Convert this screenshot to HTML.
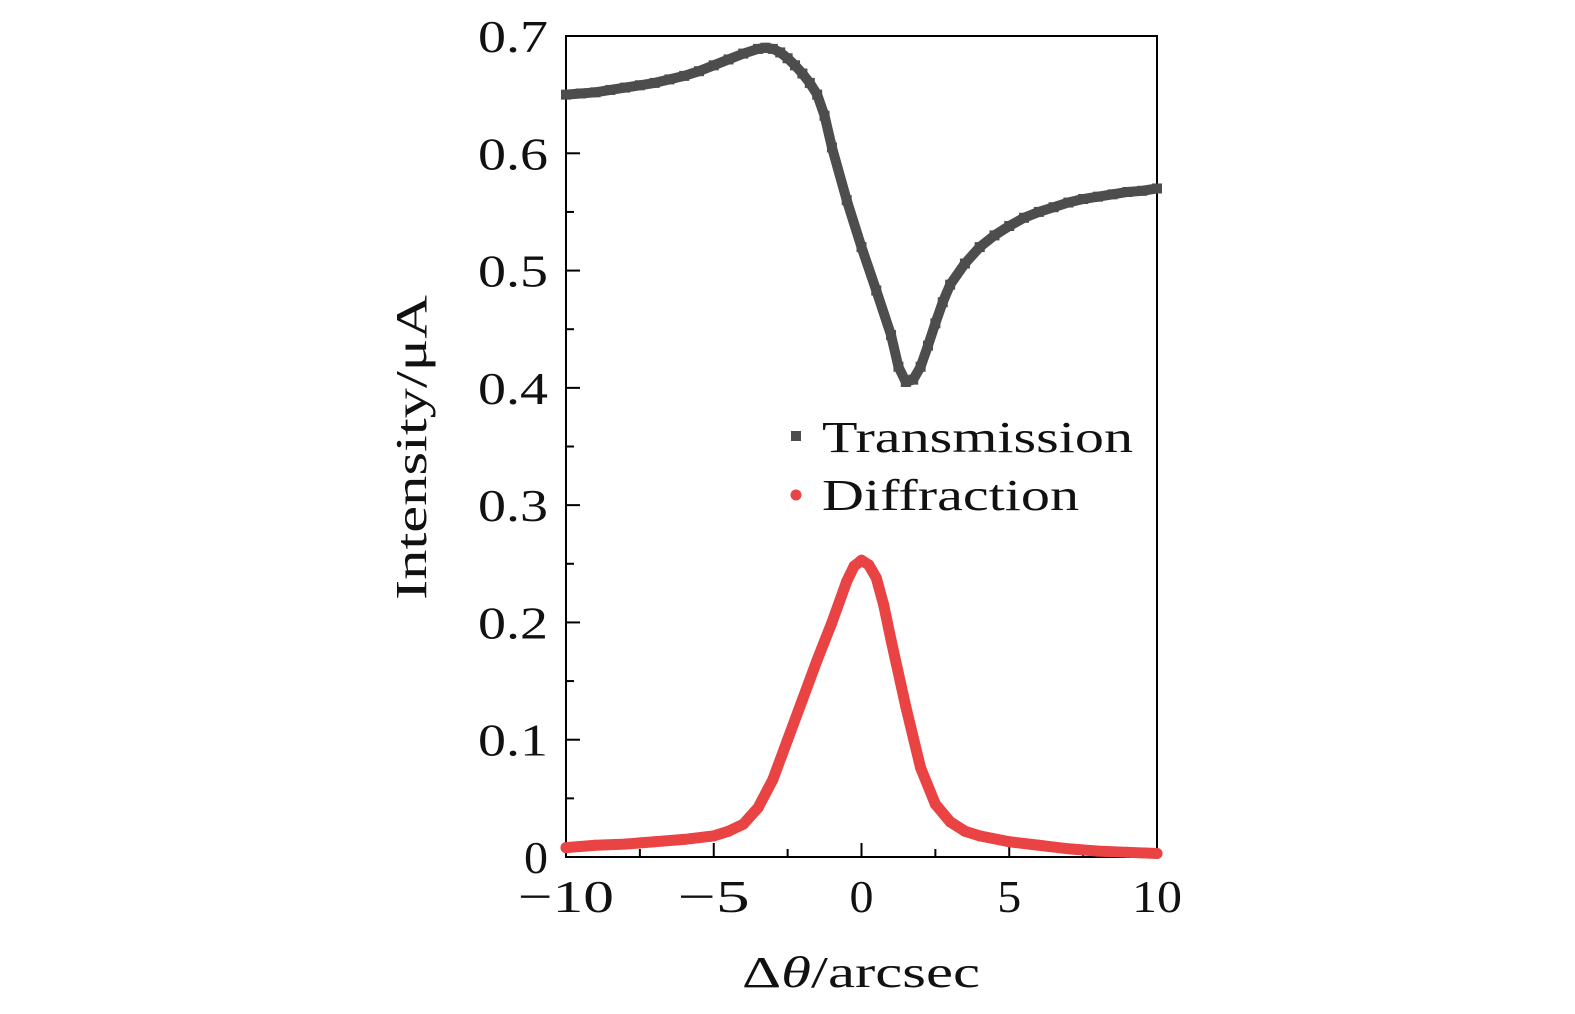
<!DOCTYPE html>
<html><head><meta charset="utf-8">
<style>
html,body{margin:0;padding:0;background:#fff;}
svg{display:block;font-family:"Liberation Serif",serif;}
</style></head>
<body>
<svg id="chart" width="1575" height="1014" viewBox="0 0 1575 1014">
<g id="axes"></g>
<g id="series"></g>
<g id="legend">
  <rect x="791" y="431" width="10" height="10" fill="#4d4d4d"/>
  <text x="822" y="452" font-size="44" fill="#111" textLength="311" lengthAdjust="spacingAndGlyphs">Transmission</text>
  <circle cx="796" cy="495" r="5.5" fill="#e94343"/>
  <text x="822" y="510" font-size="44" fill="#111" textLength="257" lengthAdjust="spacingAndGlyphs">Diffraction</text>
</g>
<text x="742" y="987" font-size="44" fill="#111" textLength="238" lengthAdjust="spacingAndGlyphs">Δ<tspan font-style="italic">θ</tspan>/arcsec</text>
<text transform="translate(426,600) rotate(-90)" font-size="44" fill="#111" textLength="305" lengthAdjust="spacingAndGlyphs">Intensity/μA</text>
</svg>
<script>
const xTrans = [-10,-9.5,-9,-8.5,-8,-7.5,-7,-6.5,-6,-5.5,-5,-4.5,-4,-3.5,-3.25,-3,-2.75,-2.5,-2.25,-2,-1.75,-1.5,-1.25,-1,-0.5,0,0.5,1,1.25,1.5,1.75,2,2.25,2.5,2.75,3,3.5,4,4.5,5,5.5,6,6.5,7,7.5,8,8.5,9,9.5,10];
const yTrans = [0.650,0.651,0.652,0.654,0.656,0.658,0.660,0.663,0.666,0.670,0.675,0.680,0.685,0.689,0.690,0.689,0.686,0.681,0.675,0.668,0.660,0.650,0.632,0.605,0.560,0.520,0.483,0.445,0.418,0.405,0.407,0.418,0.436,0.455,0.473,0.488,0.506,0.520,0.530,0.538,0.545,0.550,0.554,0.558,0.561,0.563,0.565,0.567,0.568,0.570];
const xDiff = [-10,-9,-8,-7,-6,-5,-4.5,-4,-3.5,-3,-2.5,-2,-1.5,-1,-0.5,-0.25,0,0.25,0.5,0.75,1,1.5,2,2.5,3,3.5,4,5,6,7,8,9,10];
const yDiff = [0.008,0.010,0.011,0.013,0.015,0.018,0.022,0.028,0.042,0.066,0.100,0.134,0.168,0.200,0.235,0.248,0.253,0.249,0.238,0.215,0.185,0.128,0.076,0.045,0.030,0.022,0.018,0.013,0.010,0.007,0.005,0.004,0.003];
const xTicks = [-10,-5,0,5,10];
const xTickLabels = ["−10","−5","0","5","10"];
const yTicks = [0,0.1,0.2,0.3,0.4,0.5,0.6,0.7];
const yTickLabels = ["0","0.1","0.2","0.3","0.4","0.5","0.6","0.7"];

const L=566,R=1157,T=36,B=857;
const X=v=>L+(v+10)/20*(R-L);
const Y=v=>B-v/0.7*(B-T);
const NS="http://www.w3.org/2000/svg";
function mk(tag,attrs,parent){const e=document.createElementNS(NS,tag);for(const k in attrs)e.setAttribute(k,attrs[k]);parent.appendChild(e);return e;}
const axes=document.getElementById('axes');
const frame=mk('rect',{x:L,y:T,width:R-L,height:B-T,fill:'none',stroke:'#000','stroke-width':2},axes);


for(let v=-10;v<=10.01;v+=2.5){
  const major=Math.abs(v%5)<0.01;
  const t=mk('line',{x1:X(v),x2:X(v),y1:B,y2:B-(major?14:8),stroke:'#000','stroke-width':2},axes);
  
  
}
for(let i=0;i<=14;i++){
  const v=i*0.05;const major=i%2===0;
  const t=mk('line',{x1:L,x2:L+(major?14:8),y1:Y(v),y2:Y(v),stroke:'#000','stroke-width':2},axes);
  
  
}
xTicks.forEach((v,i)=>{
  const lab=xTickLabels[i];
  const w=lab==="−10"?96:(lab==="−5"?72:(lab.length===2?50:24));
  const t=mk('text',{x:X(v),y:912,'font-size':46,'text-anchor':'middle',fill:'#111',textLength:w,lengthAdjust:'spacingAndGlyphs'},axes);
  t.textContent=lab;
  
  
});
yTicks.forEach((v,i)=>{
  const lab=yTickLabels[i];
  const w=lab.length>1?70:24;
  const t=mk('text',{x:548-w,y:Y(v)+16,'font-size':46,fill:'#111',textLength:w,lengthAdjust:'spacingAndGlyphs'},axes);
  t.textContent=lab;
  
  
});
const ser=document.getElementById('series');
function drawSeries(xs,ys,color,w,name,shape){
  const g=mk('g',{},ser);
  
  
  const pts=xs.map((x,i)=>X(x)+','+Y(ys[i])).join(' ');
  const pl=mk('polyline',{points:pts,fill:'none',stroke:color,'stroke-width':w,'stroke-linejoin':'round','stroke-linecap':'round'},g);
  
  
  xs.forEach((x,i)=>{
    let m;
    if(shape==='sq') m=mk('rect',{x:X(x)-5,y:Y(ys[i])-5,width:10,height:10,fill:color},g);
    else m=mk('circle',{cx:X(x),cy:Y(ys[i]),r:5.5,fill:color},g);
    
    
  });
}
drawSeries(xTrans,yTrans,'#4d4d4d',10,'transmission-series','sq');
drawSeries(xDiff,yDiff,'#e94343',11,'diffraction-series','c');
</script>
</body></html>
